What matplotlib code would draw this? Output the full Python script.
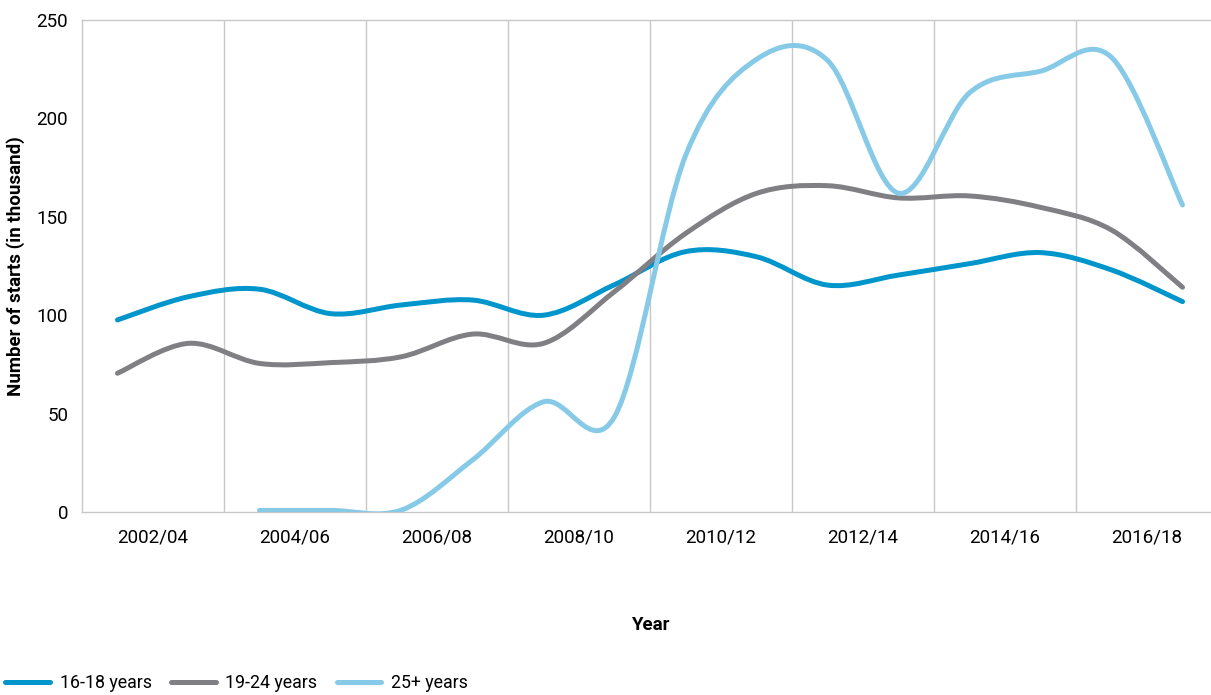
import numpy as np
import matplotlib
matplotlib.use('Agg')
import matplotlib.pyplot as plt
from matplotlib.path import Path
from matplotlib.patches import PathPatch
from matplotlib.lines import Line2D


# apprenticeship starts by age group, thousands, yearly 2002/03 .. 2017/18
years = ['2002/03', '2003/04', '2004/05', '2005/06', '2006/07', '2007/08',
         '2008/09', '2009/10', '2010/11', '2011/12', '2012/13', '2013/14',
         '2014/15', '2015/16', '2016/17', '2017/18']
tick_labels = ['2002/04', '2004/06', '2006/08', '2008/10',
               '2010/12', '2012/14', '2014/16', '2016/18']

age_16_18 = [97.6, 109.4, 113.2, 100.8, 105.2, 107.7, 100.0, 115.5,
             132.3, 129.7, 115.3, 120.4, 126.2, 131.8, 123.0, 106.9]
age_19_24 = [70.5, 85.7, 75.5, 75.9, 78.9, 90.4, 85.7, 112.0,
             141.5, 161.9, 165.8, 159.6, 160.6, 154.8, 143.3, 114.2]
age_25_plus = [None, None, 0.8, 0.8, 1.0, 26.4, 56.0, 48.4,
               181.0, 230.0, 229.5, 162.0, 213.0, 224.0, 231.0, 156.0]

series_names = ['16-18 years', '19-24 years', '25+ years']
colors = ['#0095cb', '#808084', '#87cae7']


def smooth_path(xs, ys):
    # Bezier curve through every point, control points from neighbours
    pts = np.column_stack([xs, ys]).astype(float)
    n = len(pts)
    verts = [pts[0]]
    codes = [Path.MOVETO]
    for i in range(n - 1):
        p0 = pts[i - 1] if i > 0 else pts[i]
        p1 = pts[i]
        p2 = pts[i + 1]
        p3 = pts[i + 2] if i + 2 < n else pts[i + 1]
        c1 = p1 + (p2 - p0) / 6.0
        c2 = p2 - (p3 - p1) / 6.0
        verts += [c1, c2, p2]
        codes += [Path.CURVE4] * 3
    return Path(verts, codes)


plt.rcParams['font.family'] = ['Roboto', 'DejaVu Sans']

fig = plt.figure(figsize=(12.11, 6.95), dpi=100)
ax = fig.add_axes([82 / 1211, 183 / 695, 1136 / 1211, 492 / 695])

x = np.arange(len(years))
for vals, col in zip([age_16_18, age_19_24, age_25_plus], colors):
    xs = [xi for xi, v in zip(x, vals) if v is not None]
    ys = [v for v in vals if v is not None]
    patch = PathPatch(smooth_path(xs, ys), facecolor='none', edgecolor=col,
                      lw=3.6, capstyle='round', joinstyle='round', zorder=3)
    ax.add_patch(patch)

ax.set_xlim(-0.5, 15.5)
ax.set_ylim(0, 250)

# vertical separators between two-year groups
for xv in np.arange(1.5, 15.5, 2):
    ax.axvline(xv, color='#c8c8c8', lw=1.0, zorder=1)

ax.set_xticks(np.arange(0.5, 16, 2))
ax.set_xticklabels(tick_labels, fontsize=13.5)
ax.set_yticks(np.arange(0, 251, 50))
ax.tick_params(axis='y', labelsize=13.5, length=0, pad=10)
ax.tick_params(axis='x', length=0, pad=12)

for side in ['left', 'top', 'bottom']:
    ax.spines[side].set_color('#c8c8c8')
    ax.spines[side].set_linewidth(1.0)
ax.spines['right'].set_visible(False)

ax.set_xlabel('Year', fontsize=13.5, fontweight='bold', labelpad=50)
fig.text(16 / 1211, 1 - 266 / 695, 'Number of starts (in thousand)',
         rotation=90, fontsize=13.5, fontweight='bold', ha='center', va='center')

handles = [Line2D([0], [0], color=c, lw=3.6, solid_capstyle='round') for c in colors]
fig.legend(handles, series_names, loc='center left', bbox_to_anchor=(0.0, 1 - 683 / 695),
           ncol=3, frameon=False, fontsize=12.8, handlelength=2.5,
           handletextpad=0.55, columnspacing=1.1, borderaxespad=0, borderpad=0.3)

fig.savefig('out.png', dpi=100)
